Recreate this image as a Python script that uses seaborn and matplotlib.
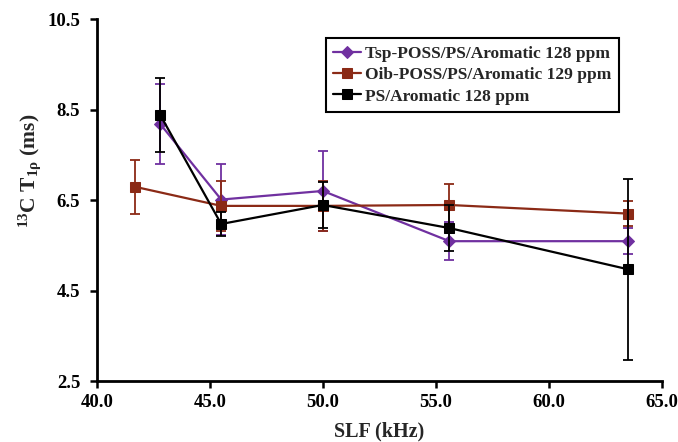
import numpy as np
import pandas as pd
import matplotlib
matplotlib.use("Agg")
import matplotlib.pyplot as plt
import seaborn as sns

# SLF frequencies (kHz) and 13C T1rho relaxation times (ms) with error bars
series_names = [
    "Tsp-POSS/PS/Aromatic 128 ppm",
    "Oib-POSS/PS/Aromatic 129 ppm",
    "PS/Aromatic 128 ppm",
]
tsp_slf = [42.8, 45.5, 50.0, 55.6, 63.5]
tsp_t1 = [8.18, 6.51, 6.70, 5.59, 5.59]
tsp_err = [0.89, 0.78, 0.89, 0.42, 0.29]

oib_slf = [41.7, 45.5, 50.0, 55.6, 63.5]
oib_t1 = [6.79, 6.37, 6.37, 6.39, 6.20]
oib_err = [0.60, 0.56, 0.56, 0.47, 0.28]

ps_slf = [42.8, 45.5, 50.0, 55.6, 63.5]
ps_t1 = [8.38, 5.97, 6.39, 5.88, 4.97]
ps_err = [0.81, 0.27, 0.50, 0.50, 2.00]

x_ticks = [40.0, 45.0, 50.0, 55.0, 60.0, 65.0]
y_ticks = [2.5, 4.5, 6.5, 8.5, 10.5]

colors = ["#7030A0", "#8B2A16", "#000000"]
markers = ["D", "s", "s"]
msizes = [6, 7, 7]

sns.set_style("ticks")
plt.rcParams["font.family"] = ["Liberation Serif", "DejaVu Serif"]
plt.rcParams["font.weight"] = "bold"
plt.rcParams["mathtext.fontset"] = "custom"
plt.rcParams["mathtext.rm"] = "Liberation Serif:bold"
plt.rcParams["mathtext.it"] = "Liberation Serif:bold"
plt.rcParams["mathtext.bf"] = "Liberation Serif:bold"
plt.rcParams["mathtext.default"] = "regular"

frames = []
for name, xs, ys, es in zip(series_names,
                            [tsp_slf, oib_slf, ps_slf],
                            [tsp_t1, oib_t1, ps_t1],
                            [tsp_err, oib_err, ps_err]):
    frames.append(pd.DataFrame({"SLF": xs, "T1": ys, "err": es, "series": name}))
df = pd.concat(frames, ignore_index=True)

fig = plt.figure(figsize=(6.78, 4.42), dpi=100)
ax = fig.add_axes([0.143, 0.138, 0.833, 0.819])

for i, name in enumerate(series_names):
    d = df[df["series"] == name]
    ax.errorbar(d["SLF"], d["T1"], yerr=d["err"], fmt="none",
                ecolor=colors[i], elinewidth=1.3, capsize=3.5, capthick=1.3,
                zorder=2 + i)
    sns.lineplot(data=d, x="SLF", y="T1", ax=ax, color=colors[i],
                 marker=markers[i], markersize=msizes[i], markeredgecolor=colors[i],
                 linewidth=1.6, label=name, sort=False, zorder=3 + i)

ax.set_xlim(40.0, 65.0)
ax.set_ylim(2.5, 10.5)
ax.set_xticks(x_ticks)
ax.set_yticks(y_ticks)
ax.set_xticklabels([f"{v:.1f}" for v in x_ticks], fontsize=13.5, fontweight="bold")
ax.set_yticklabels([f"{v:.1f}" for v in y_ticks], fontsize=13.5, fontweight="bold")
ax.tick_params(direction="out", length=5, width=1.8, colors="black")
ax.tick_params(axis="y", pad=7)
ax.tick_params(axis="x", pad=4)
for side in ["top", "right"]:
    ax.spines[side].set_visible(False)
for side in ["left", "bottom"]:
    ax.spines[side].set_linewidth(2.0)
    ax.spines[side].set_color("black")

ax.set_xlabel("SLF (kHz)", fontsize=14.5, fontweight="bold")
ax.set_ylabel("$^{13}$C T$_{1ρ}$ (ms)", fontsize=15.5, fontweight="bold")
ax.xaxis.set_label_coords(0.5, -0.112)
ax.yaxis.set_label_coords(-0.096, 0.58)

leg = ax.legend(loc="upper left", bbox_to_anchor=(0.405, 0.948), borderaxespad=0,
                frameon=True, fancybox=False, edgecolor="black", framealpha=1,
                prop={"family": "Liberation Serif", "weight": "bold", "size": 12.5},
                handlelength=1.6, handletextpad=0.2, borderpad=0.45, labelspacing=0.3)
leg.get_frame().set_linewidth(1.5)

fig.savefig("out.png", dpi=100)
